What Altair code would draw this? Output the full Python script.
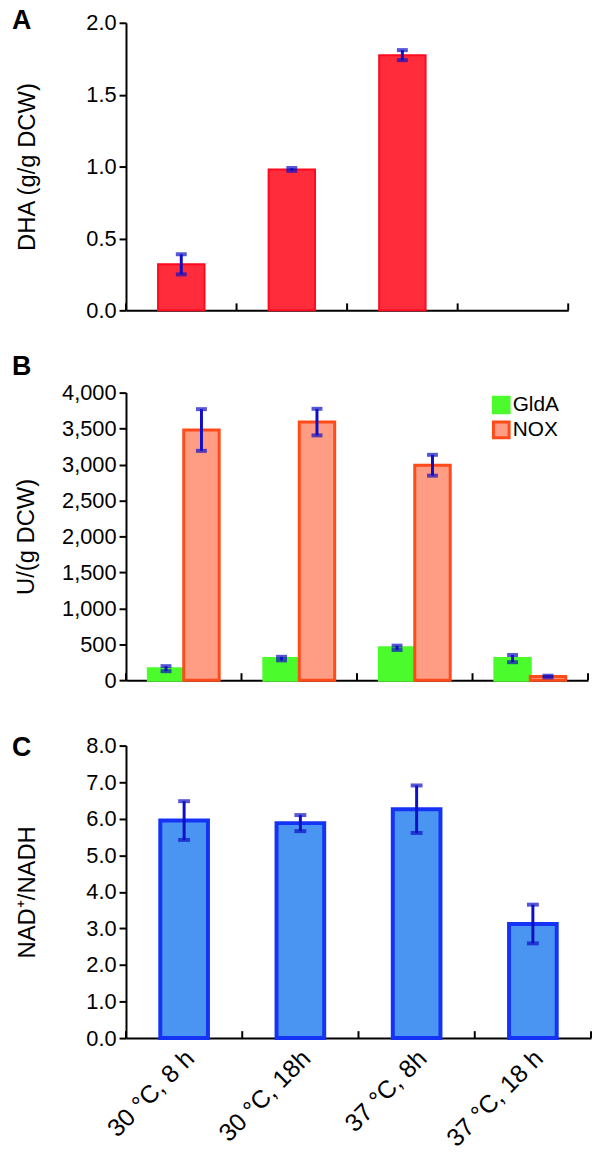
import altair as alt
import pandas as pd

FONT = "Liberation Sans"

categories = ["30 °C, 8 h", "30 °C, 18h", "37 °C, 8h", "37 °C, 18 h"]

# Panel A: DHA (g/g DCW)
dha_cats = ["30 °C, 8 h", "30 °C, 18h", "37 °C, 8h"]
dha_values = [0.32, 0.98, 1.775]
dha_err = [0.07, 0.01, 0.035]

# Panel B: enzyme activity U/(g DCW)
series = ["GldA", "NOX"]
gldA_values = [160, 300, 450, 300]
gldA_err = [35, 25, 30, 50]
nox_values = [3480, 3590, 2990, 50]
nox_err = [290, 185, 145, 12]

# Panel C: NAD+/NADH
nad_values = [5.95, 5.88, 6.26, 3.12]
nad_err = [0.53, 0.22, 0.65, 0.53]

ERR_COLOR = "#0F0FC4"

def xscale():
    return alt.Scale(domain=categories, paddingInner=0, paddingOuter=0)

def yaxis(values, fmt, title, tpad):
    return alt.Axis(values=values, format=fmt, title=title, grid=False,
                    tickSize=7, tickWidth=2, tickColor="black",
                    domainWidth=2, domainColor="black",
                    labelFont=FONT, labelFontSize=22, labelColor="black", labelPadding=3,
                    titleFont=FONT, titleFontSize=24, titleFontWeight="normal",
                    titleColor="black", titlePadding=tpad)

def x_ticks(H, xaxis):
    d = pd.DataFrame({"cat": categories})
    t0 = alt.Chart(d).mark_rule(color="black", strokeWidth=2).encode(
        x=alt.X("cat:N", bandPosition=0, scale=xscale(), axis=xaxis),
        y=alt.value(H), y2=alt.value(H - 7))
    t1 = alt.Chart(d.tail(1)).mark_rule(color="black", strokeWidth=2).encode(
        x=alt.X("cat:N", bandPosition=1, scale=xscale(), axis=xaxis),
        y=alt.value(H), y2=alt.value(H - 7))
    return [t0, t1]

def letter(t, dy):
    return alt.Chart(pd.DataFrame({"t": [t]})).mark_text(
        font=FONT, fontSize=27, fontWeight="bold", align="left", baseline="middle",
        color="black").encode(text="t:N", x=alt.value(-115), y=alt.value(dy))

noLabelAxis = alt.Axis(labels=False, ticks=False, title=None, domainWidth=2, domainColor="black")

# ---------- Panel A ----------
HA, WA = 290, 446
dfA = pd.DataFrame({"cat": dha_cats, "val": dha_values, "err": dha_err})
dfA["lo"] = dfA["val"] - dfA["err"]
dfA["hi"] = dfA["val"] + dfA["err"]

axA = yaxis([0, 0.5, 1.0, 1.5, 2.0], ".1f", "DHA (g/g DCW)", 47)
scA = alt.Scale(domain=[0, 2], nice=False)
xA = alt.X("cat:N", scale=xscale(), sort=categories, axis=noLabelAxis)

barsA = alt.Chart(dfA).mark_bar(width=alt.RelativeBandSize(0.42), fill="#FF2C3C",
                                stroke="#FF0A1E", strokeWidth=2).encode(
    x=xA, y=alt.Y("val:Q", scale=scA, axis=axA))
errA = alt.Chart(dfA).mark_rule(color=ERR_COLOR, strokeWidth=3).encode(
    x=xA, y=alt.Y("lo:Q", scale=scA, axis=axA), y2="hi:Q")
capA = alt.Chart(dfA).transform_fold(["lo", "hi"], as_=["k", "v"]).mark_tick(
    color=ERR_COLOR, size=11, thickness=4).encode(x=xA, y=alt.Y("v:Q", scale=scA, axis=axA))

panelA = alt.layer(barsA, errA, capA, *x_ticks(HA, noLabelAxis), letter("A", -2)).properties(width=WA, height=HA)

# ---------- Panel B ----------
HB, WB = 290, 466
rows = []
for i, c in enumerate(categories):
    rows.append({"cat": c, "series": "GldA", "val": gldA_values[i], "err": gldA_err[i]})
    rows.append({"cat": c, "series": "NOX", "val": nox_values[i], "err": nox_err[i]})
dfB = pd.DataFrame(rows)
dfB["lo"] = dfB["val"] - dfB["err"]
dfB["hi"] = dfB["val"] + dfB["err"]

axB = yaxis(list(range(0, 4001, 500)), ",d", "U/(g DCW)", 23)
scB = alt.Scale(domain=[0, 4000], nice=False)
xB = alt.X("cat:N", scale=xscale(), sort=categories, axis=noLabelAxis)
xoB = alt.XOffset("series:N", sort=series, scale=alt.Scale(domain=series, paddingInner=0, paddingOuter=0.63))

leg = alt.Legend(orient="none", legendX=368, legendY=2, title=None,
                 labelFont=FONT, labelFontSize=21, labelColor="black",
                 symbolType="square", symbolSize=250, symbolStrokeWidth=3,
                 rowPadding=-8, labelOffset=1)
barsB = alt.Chart(dfB).mark_bar(strokeWidth=3).encode(
    x=xB, xOffset=xoB, y=alt.Y("val:Q", scale=scB, axis=axB),
    fill=alt.Fill("series:N", scale=alt.Scale(domain=series, range=["#4CFB2C", "#FF9C84"]), legend=leg),
    stroke=alt.Stroke("series:N", scale=alt.Scale(domain=series, range=["#4CFB2C", "#FF4A1A"]), legend=leg))
errB = alt.Chart(dfB).mark_rule(color=ERR_COLOR, strokeWidth=3).encode(
    x=xB, xOffset=xoB, y=alt.Y("lo:Q", scale=scB, axis=axB), y2="hi:Q")
capB = alt.Chart(dfB).transform_fold(["lo", "hi"], as_=["k", "v"]).mark_tick(
    color=ERR_COLOR, size=11, thickness=4).encode(
    x=xB, xOffset=xoB, y=alt.Y("v:Q", scale=scB, axis=axB))

panelB = alt.layer(barsB, errB, capB, *x_ticks(HB, noLabelAxis), letter("B", -26)).properties(width=WB, height=HB)

# ---------- Panel C ----------
HC, WC = 295, 469
dfC = pd.DataFrame({"cat": categories, "val": nad_values, "err": nad_err})
dfC["lo"] = dfC["val"] - dfC["err"]
dfC["hi"] = dfC["val"] + dfC["err"]

axXC = alt.Axis(ticks=False, title=None, domainWidth=2, domainColor="black",
                labelAngle=-45, labelFont=FONT, labelFontSize=25, labelColor="black",
                labelPadding=16, labelOffset=6, labelAlign="right", labelBaseline="middle")
xC = alt.X("cat:N", scale=xscale(), sort=categories, axis=axXC)
axC = yaxis(list(range(0, 9)), ".1f", "NAD⁺/NADH", 47)
scC = alt.Scale(domain=[0, 8], nice=False)

barsC = alt.Chart(dfC).mark_bar(width=alt.RelativeBandSize(0.41), fill="#4A95F2",
                                stroke="#1433F5", strokeWidth=4).encode(
    x=xC, y=alt.Y("val:Q", scale=scC, axis=axC))
errC = alt.Chart(dfC).mark_rule(color=ERR_COLOR, strokeWidth=3).encode(
    x=xC, y=alt.Y("lo:Q", scale=scC, axis=axC), y2="hi:Q")
capC = alt.Chart(dfC).transform_fold(["lo", "hi"], as_=["k", "v"]).mark_tick(
    color=ERR_COLOR, size=12, thickness=4).encode(x=xC, y=alt.Y("v:Q", scale=scC, axis=axC))

panelC = alt.layer(barsC, errC, capC, *x_ticks(HC, axXC), letter("C", 2)).properties(width=WC, height=HC)

top = alt.vconcat(panelA, panelB, spacing=32).resolve_scale(fill="independent", stroke="independent")
chart = alt.vconcat(top, panelC, spacing=43).resolve_scale(
    fill="independent", stroke="independent"
).properties(
    padding={"left": 4, "top": -6, "right": 0, "bottom": 0}
).configure_view(strokeWidth=0).configure_axisY(
    titleFont=FONT, titleFontSize=24, titleFontWeight="normal", titleColor="black",
    labelFont=FONT, labelFontSize=22, labelColor="black"
)

chart.save("out.html", embed_options={"renderer": "svg", "actions": False})
